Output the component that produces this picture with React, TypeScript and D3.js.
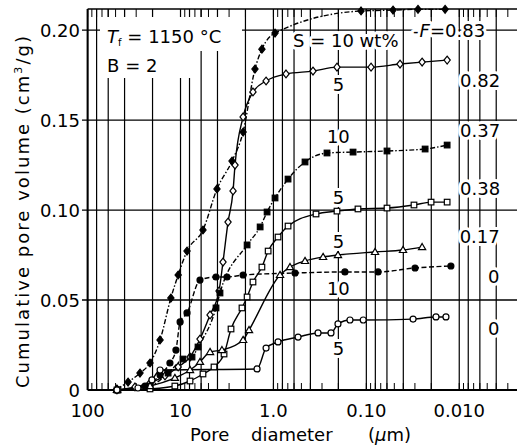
import React from 'react';
import * as d3 from 'd3';

const W = 517;
const H = 448;

// Axis ticks
const xTickValues = [100, 10, 1, 0.1, 0.01];
const xTickLabels = ['100', '10', '1.0', '0.10', '0.010'];
const yTickValues = [0, 0.05, 0.1, 0.15, 0.2];
const yTickLabels = ['0', '0.05', '0.10', '0.15', '0.20'];

// Series: pore diameter (µm) and cumulative pore volume (cm3/g)
// S = 10 wt%, F = 0.83
const d_S10_F083 = [48.3, 36.7, 27.3, 21.3, 16.6, 12.7, 10.6, 8.51, 5.73, 4.05, 2.79, 2.12, 1.58, 1.33, 0.961, 0.114, 0.0516, 0.0278, 0.0142];
const v_S10_F083 = [0.0006, 0.0044, 0.0094, 0.015, 0.0278, 0.0511, 0.0639, 0.0772, 0.0889, 0.1117, 0.1272, 0.1433, 0.1783, 0.1894, 0.1983, 0.2106, 0.2111, 0.2115, 0.2115];
// S = 5 wt%, F = 0.82
const d_S5_F082 = [48.3, 30.9, 21.3, 14.7, 10.6, 7.9, 6.17, 4.81, 3.85, 3.49, 3.08, 2.72, 2.59, 2.12, 1.66, 1.2, 0.732, 0.375, 0.207, 0.089, 0.0434, 0.0251, 0.0135];
const v_S5_F082 = [0, 0.0017, 0.0039, 0.0078, 0.0128, 0.0183, 0.0283, 0.0417, 0.055, 0.0711, 0.0933, 0.1106, 0.125, 0.1517, 0.1656, 0.1717, 0.1756, 0.1772, 0.1794, 0.1794, 0.1811, 0.1822, 0.1833];
// S = 10 wt%, F = 0.37
const d_S10_F037 = [48.3, 21.3, 13.6, 9.4, 7.52, 6.48, 4.15, 3.76, 1.92, 1.39, 1.17, 0.961, 0.696, 0.457, 0.265, 0.139, 0.0599, 0.0233, 0.0135];
const v_S10_F037 = [0, 0.0022, 0.0094, 0.0172, 0.0183, 0.0239, 0.0456, 0.0539, 0.0806, 0.0906, 0.0989, 0.1067, 0.1172, 0.1267, 0.1317, 0.1322, 0.1328, 0.1339, 0.1361];
// S = 5 wt%, F = 0.38
const d_S5_F038 = [47.1, 21.3, 11.5, 7.9, 5.73, 4.36, 3.4, 2.86, 2.18, 1.92, 1.66, 1.33, 1.14, 0.892, 0.696, 0.348, 0.207, 0.123, 0.0599, 0.0307, 0.0201, 0.0135];
const v_S5_F038 = [0, 0.0006, 0.0022, 0.005, 0.0089, 0.0128, 0.02, 0.0339, 0.0456, 0.0517, 0.06, 0.0683, 0.0772, 0.085, 0.0911, 0.0978, 0.0994, 0.1006, 0.1011, 0.1028, 0.1044, 0.1044];
// S = 5 wt%, F = 0.17
const d_S5_F017 = [48.3, 21.3, 11.5, 7.9, 6.17, 4.81, 3.58, 2.12, 1.83, 0.849, 0.663, 0.457, 0.292, 0.202, 0.0806, 0.0403, 0.0251];
const v_S5_F017 = [0, 0.0022, 0.0067, 0.0111, 0.0156, 0.0211, 0.0222, 0.0278, 0.0333, 0.0639, 0.0683, 0.0717, 0.0739, 0.075, 0.0767, 0.0778, 0.0794];
// S = 10 wt%, F = 0
const d_S10_F0 = [48.3, 24.1, 16.6, 13.0, 11.2, 10.1, 8.51, 6.17, 4.15, 3.16, 2.12, 0.585, 0.17, 0.0748, 0.0299, 0.0123];
const v_S10_F0 = [0, 0.0022, 0.0083, 0.015, 0.0222, 0.0378, 0.0428, 0.0611, 0.0628, 0.0628, 0.0639, 0.065, 0.0656, 0.0656, 0.0678, 0.0689];
// S = 5 wt%, F = 0
const d_S5_F0 = [48.3, 28.7, 20.3, 16.6, 1.5, 1.2, 0.892, 0.543, 0.331, 0.24, 0.202, 0.15, 0.108, 0.0314, 0.0178, 0.0139];
const v_S5_F0 = [0, 0.0011, 0.0056, 0.0111, 0.0117, 0.0233, 0.0267, 0.0294, 0.0317, 0.0317, 0.0367, 0.0389, 0.0389, 0.0394, 0.0406, 0.0406];

// Annotations
const fLabels = ['0.82', '0.37', '0.38', '0.17', '0', '0'];
const fLabelD = [0.0098, 0.0098, 0.0098, 0.0099, 0.0049, 0.0049];
const fLabelV = [0.1683, 0.1406, 0.1083, 0.0817, 0.0594, 0.0306];
const sLabels = ['5', '10', '5', '5', '10', '5'];
const sLabelV = [0.1661, 0.1372, 0.1033, 0.0789, 0.0528, 0.0194];
const sLabelD = 0.2;

type Marker = 'diamond' | 'circle' | 'square' | 'triangle';
const series: { d: number[]; v: number[]; marker: Marker; filled: boolean; dash: string | null }[] = [
  { d: d_S10_F083, v: v_S10_F083, marker: 'diamond', filled: true, dash: '5 2 1.5 2' },
  { d: d_S5_F082, v: v_S5_F082, marker: 'diamond', filled: false, dash: null },
  { d: d_S10_F037, v: v_S10_F037, marker: 'square', filled: true, dash: '5 2 1.5 2' },
  { d: d_S5_F038, v: v_S5_F038, marker: 'square', filled: false, dash: null },
  { d: d_S5_F017, v: v_S5_F017, marker: 'triangle', filled: false, dash: null },
  { d: d_S10_F0, v: v_S10_F0, marker: 'circle', filled: true, dash: '5 2.5' },
  { d: d_S5_F0, v: v_S5_F0, marker: 'circle', filled: false, dash: null },
];

const FONT = "'DejaVu Sans', 'Noto Sans', sans-serif";

function MarkerShape({ cx, cy, type, filled }: { cx: number; cy: number; type: Marker; filled: boolean }) {
  const fill = filled ? '#000' : '#fff';
  const common = { fill, stroke: '#000', strokeWidth: 1.2 };
  if (type === 'diamond') {
    const r = 3.9;
    return <path d={`M${cx},${cy - r}L${cx + r * 0.8},${cy}L${cx},${cy + r}L${cx - r * 0.8},${cy}Z`} {...common} />;
  }
  if (type === 'circle') return <circle cx={cx} cy={cy} r={3} {...common} />;
  if (type === 'square') return <rect x={cx - 2.8} y={cy - 2.8} width={5.6} height={5.6} {...common} />;
  const s = 3.6;
  return <path d={`M${cx},${cy - s}L${cx + s},${cy + s * 0.7}L${cx - s},${cy + s * 0.7}Z`} {...common} />;
}

export default function App() {
  const x = d3.scaleLog().domain([100, 0.00239]).range([87.6, 517]);
  const y = d3.scaleLinear().domain([0, 0.2117]).range([390, 9]);
  const line = d3
    .line<[number, number]>()
    .x((p) => x(p[0]))
    .y((p) => y(p[1]))
    .curve(d3.curveMonotoneX);

  const gridVals: number[] = [];
  const minorVals: number[] = [];
  for (let k = -3; k <= 2; k++) {
    for (let m = 1; m <= 9; m++) {
      const val = m * Math.pow(10, k);
      if (val > 100 || val < 0.0024) continue;
      if ([1, 2, 4, 6, 8].includes(m)) gridVals.push(val);
      minorVals.push(val);
    }
  }

  const halo = { paintOrder: 'stroke' as const, stroke: '#fff', strokeWidth: 6, strokeLinejoin: 'round' as const };

  return (
    <div style={{ position: 'absolute', left: 0, top: 0 }}>
      <svg width={W} height={H} style={{ display: 'block', background: '#fff' }} fontFamily={FONT}>
        {/* vertical grid */}
        {gridVals.map((g, i) => (
          <line key={'vg' + i} x1={x(g)} x2={x(g)} y1={y(0.2117)} y2={y(0)} stroke="#000" strokeWidth={1.2} />
        ))}
        {/* horizontal grid */}
        {yTickValues.filter((t) => t > 0).map((t, i) => (
          <line key={'hg' + i} x1={82} x2={W} y1={y(t)} y2={y(t)} stroke="#000" strokeWidth={1.3} />
        ))}
        {/* white areas behind the condition text block */}
        <rect x={100} y={17} width={142} height={34} fill="#fff" />
        <rect x={100} y={50} width={97} height={28} fill="#fff" />
        {/* minor ticks top & bottom */}
        {minorVals.map((g, i) => (
          <g key={'mt' + i}>
            <line x1={x(g)} x2={x(g)} y1={y(0.2117)} y2={y(0.2117) + 8} stroke="#000" strokeWidth={1} />
            <line x1={x(g)} x2={x(g)} y1={y(0)} y2={y(0) - 7} stroke="#000" strokeWidth={1} />
          </g>
        ))}
        {/* frame */}
        <line x1={87.6} x2={W} y1={y(0.2117)} y2={y(0.2117)} stroke="#000" strokeWidth={1.6} />
        <line x1={87.6} x2={W} y1={y(0)} y2={y(0)} stroke="#000" strokeWidth={2} />
        <line x1={87.6} x2={87.6} y1={y(0.2117)} y2={y(0)} stroke="#000" strokeWidth={2} />

        <text x={x(61.7)} y={y(0.1928)} fontSize={18}>
          <tspan fontStyle="italic">T</tspan>
          <tspan fontSize={10} dy={3}>f</tspan>
          <tspan dy={-3}> = 1150  °C</tspan>
        </text>
        <text x={x(61.7)} y={y(0.1767)} fontSize={18}>
          B = 2
        </text>

        {/* curves */}
        {series.map((s, i) => (
          <path
            key={'c' + i}
            d={line(s.d.map((dd, j) => [dd, s.v[j]] as [number, number])) || ''}
            fill="none"
            stroke="#000"
            strokeWidth={1.4}
            strokeDasharray={s.dash || undefined}
          />
        ))}
        {series.map((s, i) => (
          <g key={'m' + i}>
            {s.d.map((dd, j) => (
              <MarkerShape key={j} cx={x(dd)} cy={y(s.v[j])} type={s.marker} filled={s.filled} />
            ))}
          </g>
        ))}

        {/* annotations */}
        <text x={x(0.615)} y={y(0.1906)} fontSize={18} style={halo}>
          S = 10 wt%
        </text>
        <text x={x(0.0314)} y={y(0.1961)} fontSize={18} style={halo}>
          -<tspan fontStyle="italic">F</tspan>=0.83
        </text>
        {fLabels.map((t, i) => (
          <text key={'f' + i} x={x(fLabelD[i])} y={y(fLabelV[i])} fontSize={18} style={halo}>
            {t}
          </text>
        ))}
        {sLabels.map((t, i) => (
          <text key={'s' + i} x={x(sLabelD)} y={y(sLabelV[i])} fontSize={18} textAnchor="middle" style={halo}>
            {t}
          </text>
        ))}

        {/* y ticks */}
        {yTickValues.map((t, i) => (
          <text key={'yt' + i} x={80} y={y(t) + 6.5} fontSize={18} textAnchor="end">
            {yTickLabels[i]}
          </text>
        ))}
        {/* x ticks */}
        {xTickValues.map((t, i) => (
          <text key={'xt' + i} x={x(t)} y={417} fontSize={18} textAnchor="middle">
            {xTickLabels[i]}
          </text>
        ))}
        {/* axis titles */}
        <text x={190} y={441} fontSize={18}>
          Pore
        </text>
        <text x={251} y={441} fontSize={18}>
          diameter
        </text>
        <text x={368} y={441} fontSize={18}>
          (<tspan fontStyle="italic">µ</tspan>m)
        </text>
        <text
          transform={`translate(29, 212) rotate(-90)`}
          fontSize={18}
          textAnchor="middle"
          textLength={352}
          lengthAdjust="spacing"
        >
          Cumulative  pore  volume  (cm<tspan fontSize={11} dy={-7}>3</tspan>
          <tspan dy={7}>/g)</tspan>
        </text>
      </svg>
    </div>
  );
}
